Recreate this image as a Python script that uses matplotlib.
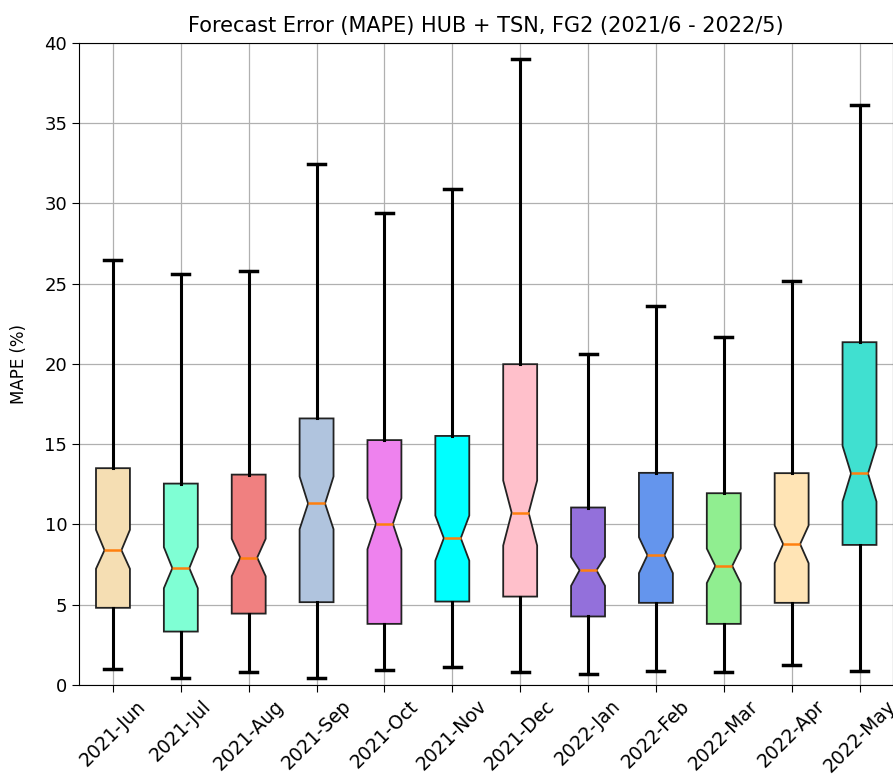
import matplotlib
matplotlib.use('Agg')
import matplotlib.pyplot as plt

# monthly MAPE summary, HUB + TSN, FG2
months = ['2021-Jun', '2021-Jul', '2021-Aug', '2021-Sep', '2021-Oct', '2021-Nov',
          '2021-Dec', '2022-Jan', '2022-Feb', '2022-Mar', '2022-Apr', '2022-May']
whis_lo = [1.0, 0.4, 0.8, 0.4, 0.93, 1.12, 0.8, 0.7, 0.87, 0.8, 1.25, 0.87]
q1 =      [4.8, 3.32, 4.44, 5.15, 3.8, 5.19, 5.5, 4.26, 5.11, 3.8, 5.11, 8.72]
median =  [8.39, 7.27, 7.93, 11.3, 10.03, 9.14, 10.72, 7.14, 8.08, 7.41, 8.77, 13.17]
q3 =      [13.5, 12.54, 13.1, 16.6, 15.25, 15.51, 19.98, 11.05, 13.21, 11.94, 13.19, 21.35]
whis_hi = [26.5, 25.6, 25.8, 32.45, 29.4, 30.9, 39.0, 20.6, 23.6, 21.66, 25.17, 36.1]
ci_lo =   [7.23, 6.02, 6.77, 9.7, 8.45, 7.74, 8.68, 6.17, 6.96, 6.34, 7.58, 11.42]
ci_hi =   [9.66, 8.58, 9.1, 12.98, 11.63, 10.55, 12.73, 7.97, 9.2, 8.49, 9.93, 14.89]

colors = ['wheat', 'aquamarine', 'lightcoral', 'lightsteelblue', 'violet', 'cyan',
          'pink', 'mediumpurple', 'cornflowerblue', 'lightgreen', 'moccasin', 'turquoise']

stats = []
for i in range(len(months)):
    stats.append({'label': months[i], 'whislo': whis_lo[i], 'q1': q1[i],
                  'med': median[i], 'q3': q3[i], 'whishi': whis_hi[i],
                  'cilo': ci_lo[i], 'cihi': ci_hi[i], 'fliers': []})

fig = plt.figure(figsize=(8.93, 7.8), dpi=100)
ax = fig.add_axes([0.0885, 0.122, 0.912, 0.823])

bp = ax.bxp(stats, shownotches=True, patch_artist=True, showfliers=False,
            widths=0.5,
            boxprops=dict(linewidth=1.3, edgecolor='#222222'),
            whiskerprops=dict(linewidth=2.2, color='black'),
            capprops=dict(linewidth=2.5, color='black'),
            medianprops=dict(linewidth=1.8, color='#ff7f0e'))
for patch, c in zip(bp['boxes'], colors):
    patch.set_facecolor(c)

ax.set_xlim(0.5, 12.5)
ax.set_ylim(0, 40)
ax.set_yticks(range(0, 41, 5))
ax.grid(True, color='#b0b0b0', linewidth=0.9)
ax.set_axisbelow(True)
ax.tick_params(axis='both', labelsize=13, length=5)
ax.set_xticks(range(1, 13))
ax.set_xticklabels(months, rotation=45, ha='center', fontsize=13.5)
ax.set_ylabel('MAPE (%)', fontsize=12, labelpad=12)
ax.set_title('Forecast Error (MAPE) HUB + TSN, FG2 (2021/6 - 2022/5)', fontsize=15, pad=8)

fig.savefig('out.png', dpi=100)
